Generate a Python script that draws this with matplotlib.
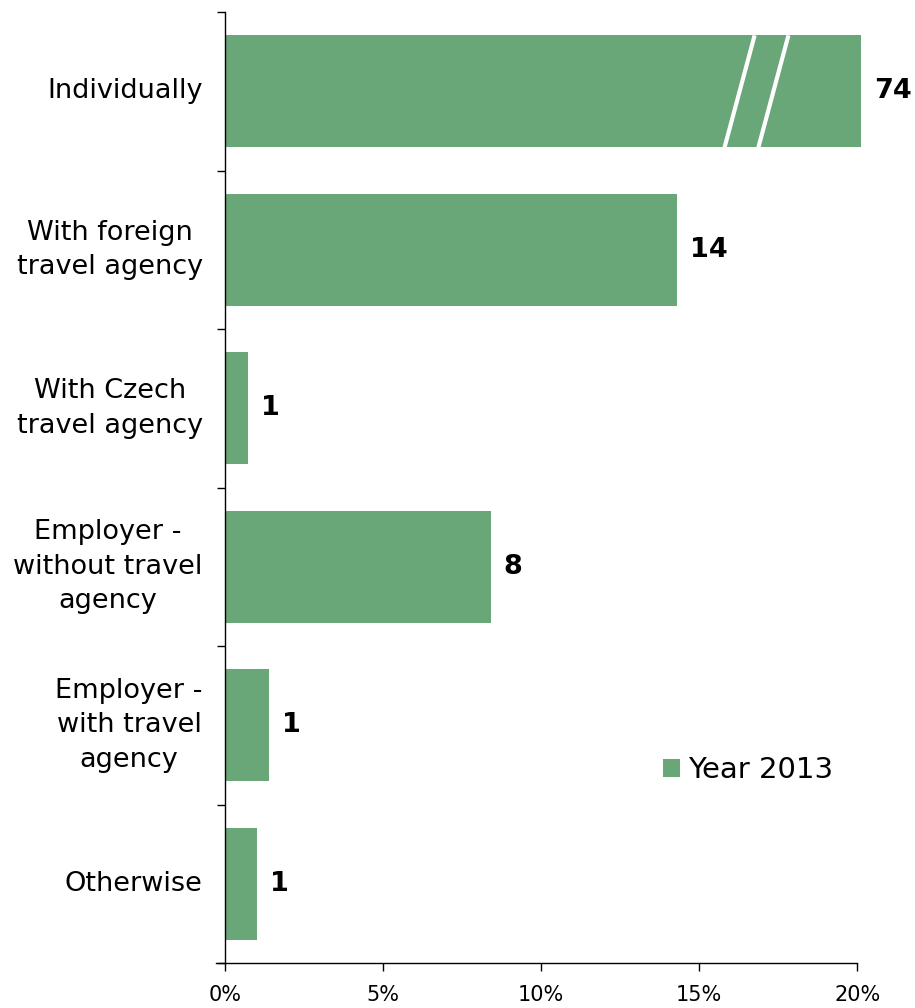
import matplotlib
matplotlib.use("Agg")
import matplotlib.pyplot as plt
import numpy as np

categories = ["Individually", "With foreign\ntravel agency", "With Czech\ntravel agency",
              "Employer -\nwithout travel\nagency", "Employer -\nwith travel\nagency", "Otherwise"]
values = [74.0, 14.3, 0.73, 8.42, 1.39, 1.01]
value_labels = ["74", "14", "1", "8", "1", "1"]
xticks = [0, 5, 10, 15, 20]
xtick_labels = ["0%", "5%", "10%", "15%", "20%"]
series_name = "Year 2013"

color = "#69a678"
xmax = 20
cap = 20.13  # display cap for broken bar

plt.rcParams['font.family'] = ['DejaVu Sans']
fig = plt.figure(figsize=(9.15, 10.08), dpi=100)
ax = fig.add_axes([0.246, 0.0446, 0.937 - 0.246, 0.988 - 0.0446])

n = len(categories)
ypos = np.arange(n)
shown = [min(v, cap) for v in values]
ax.barh(ypos, shown, height=0.707, color=color, label=series_name, clip_on=False, zorder=2)
ax.set_ylim(n - 0.5, -0.5)
ax.set_xlim(0, xmax)

# break marks on clipped bar
for i, v in enumerate(values):
    if v > cap:
        h = 0.707
        for x0 in (15.8, 16.87):
            ax.plot([x0, x0 + 0.95], [i + h / 2, i - h / 2], color="white", lw=3, zorder=3,
                    solid_capstyle="butt")

for i, (v, lab) in enumerate(zip(shown, value_labels)):
    ax.annotate(lab, xy=(v, i), xytext=(9, 0), textcoords="offset points",
                ha="left", va="center", fontsize=19.5, fontweight="bold", annotation_clip=False)

ax.set_xticks(xticks)
ax.set_xticklabels(xtick_labels, fontsize=15)
ax.set_yticks(np.arange(n + 1) - 0.5, minor=False)
ax.set_yticklabels([])
ax.set_yticks(ypos, minor=True)
ax.set_yticklabels(categories, minor=True, fontsize=19.5)
for lab in ax.get_yticklabels(minor=True):
    lab.set_multialignment("center")
    lab.set_linespacing(1.42)
    lab.set_verticalalignment("center")
ax.tick_params(axis="y", which="minor", length=0, pad=16)
ax.tick_params(axis="y", which="major", length=6, direction="out", width=1)
ax.tick_params(axis="x", length=6, direction="out", pad=10, width=1)

for s in ["top", "right"]:
    ax.spines[s].set_visible(False)
ax.spines["left"].set_linewidth(1)
ax.spines["bottom"].set_linewidth(1)
ax.spines["bottom"].set_bounds(-0.3, xmax)

leg = ax.legend(loc="center left", bbox_to_anchor=(0.692, 0.203), frameon=False,
                fontsize=21, handlelength=0.58, handleheight=0.58, handletextpad=0.3,
                borderpad=0, borderaxespad=0)

fig.savefig("out.png", dpi=100)
